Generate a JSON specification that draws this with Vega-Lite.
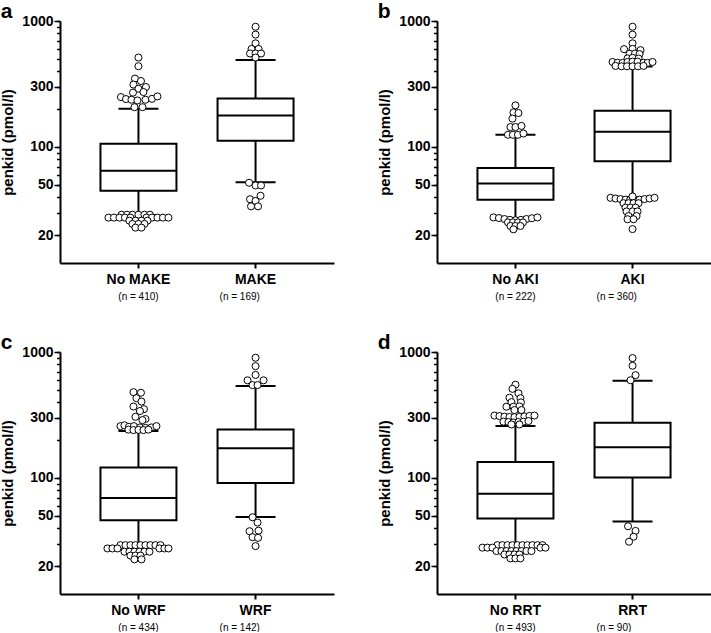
{
"$schema": "https://vega.github.io/schema/vega-lite/v6.json",
"background": "white",
"padding": {"left": 0, "top": 1, "right": 0, "bottom": 0},
"columns": 2,
"spacing": {"row": 31, "column": 43},
"datasets": {
"boxes": [
{"p":"a","g":"No MAKE","lo":28.9,"q1":44.9,"med":64.8,"q3":106,"hi":201},
{"p":"a","g":"MAKE","lo":52.5,"q1":112,"med":178,"q3":243,"hi":491},
{"p":"b","g":"No AKI","lo":27.2,"q1":38.1,"med":51.4,"q3":68,"hi":125},
{"p":"b","g":"AKI","lo":40,"q1":77,"med":132,"q3":194,"hi":435},
{"p":"c","g":"No WRF","lo":29.3,"q1":46.1,"med":69.4,"q3":121,"hi":236},
{"p":"c","g":"WRF","lo":49.1,"q1":91.2,"med":172,"q3":243,"hi":538},
{"p":"d","g":"No RRT","lo":29.3,"q1":47.6,"med":75,"q3":134,"hi":259},
{"p":"d","g":"RRT","lo":45.1,"q1":101,"med":175,"q3":275,"hi":590}
],
"outliers": [
{"p":"a","g":"No MAKE","v":513,"j":0},{"p":"a","g":"No MAKE","v":438,"j":0},{"p":"a","g":"No MAKE","v":349,"j":-0.7},{"p":"a","g":"No MAKE","v":334,"j":0.5},{"p":"a","g":"No MAKE","v":313,"j":-1},{"p":"a","g":"No MAKE","v":299,"j":1.5},{"p":"a","g":"No MAKE","v":290,"j":0},{"p":"a","g":"No MAKE","v":273,"j":1},{"p":"a","g":"No MAKE","v":270,"j":-1.1},{"p":"a","g":"No MAKE","v":249,"j":-3.5},{"p":"a","g":"No MAKE","v":240,"j":-2.5},{"p":"a","g":"No MAKE","v":237,"j":-1.4},{"p":"a","g":"No MAKE","v":234,"j":-0.2},{"p":"a","g":"No MAKE","v":237,"j":1.4},{"p":"a","g":"No MAKE","v":241,"j":2.7},{"p":"a","g":"No MAKE","v":252,"j":3.8},{"p":"a","g":"No MAKE","v":207,"j":-0.8},{"p":"a","g":"No MAKE","v":207,"j":0.8},
{"p":"a","g":"No MAKE","v":29,"j":-3.4},{"p":"a","g":"No MAKE","v":29,"j":-2.3},{"p":"a","g":"No MAKE","v":29,"j":-1.2},{"p":"a","g":"No MAKE","v":29,"j":0},{"p":"a","g":"No MAKE","v":29,"j":1.2},{"p":"a","g":"No MAKE","v":29,"j":2.3},
{"p":"a","g":"No MAKE","v":27.5,"j":-6},{"p":"a","g":"No MAKE","v":27.5,"j":-4.9},{"p":"a","g":"No MAKE","v":27.5,"j":-3.8},{"p":"a","g":"No MAKE","v":27.5,"j":-2.7},{"p":"a","g":"No MAKE","v":27.5,"j":-1.6},{"p":"a","g":"No MAKE","v":27.5,"j":1.6},{"p":"a","g":"No MAKE","v":27.5,"j":2.7},{"p":"a","g":"No MAKE","v":27.5,"j":3.8},{"p":"a","g":"No MAKE","v":27.5,"j":4.9},{"p":"a","g":"No MAKE","v":27.5,"j":6},
{"p":"a","g":"No MAKE","v":26,"j":-1.8},{"p":"a","g":"No MAKE","v":26,"j":-0.6},{"p":"a","g":"No MAKE","v":26,"j":0.6},{"p":"a","g":"No MAKE","v":26,"j":1.8},
{"p":"a","g":"No MAKE","v":24.5,"j":-1.2},{"p":"a","g":"No MAKE","v":24.5,"j":0},{"p":"a","g":"No MAKE","v":24.5,"j":1.2},{"p":"a","g":"No MAKE","v":22.9,"j":-0.6},{"p":"a","g":"No MAKE","v":22.9,"j":0.6},
{"p":"a","g":"MAKE","v":900,"j":0},{"p":"a","g":"MAKE","v":780,"j":0},{"p":"a","g":"MAKE","v":665,"j":0},{"p":"a","g":"MAKE","v":600,"j":-0.8},{"p":"a","g":"MAKE","v":600,"j":0.6},{"p":"a","g":"MAKE","v":552,"j":-1.1},{"p":"a","g":"MAKE","v":552,"j":0},{"p":"a","g":"MAKE","v":552,"j":1.1},{"p":"a","g":"MAKE","v":513,"j":0},
{"p":"a","g":"MAKE","v":52,"j":-1.3},{"p":"a","g":"MAKE","v":49.5,"j":0},{"p":"a","g":"MAKE","v":49.5,"j":1.1},{"p":"a","g":"MAKE","v":38.5,"j":-1.1},{"p":"a","g":"MAKE","v":37.3,"j":0},{"p":"a","g":"MAKE","v":41,"j":1},{"p":"a","g":"MAKE","v":33.8,"j":-0.9},{"p":"a","g":"MAKE","v":33.8,"j":0.5},

{"p":"b","g":"No AKI","v":214,"j":0},{"p":"b","g":"No AKI","v":188,"j":-0.4},{"p":"b","g":"No AKI","v":186,"j":0.6},{"p":"b","g":"No AKI","v":168,"j":-0.6},{"p":"b","g":"No AKI","v":144,"j":-1},{"p":"b","g":"No AKI","v":144,"j":0},{"p":"b","g":"No AKI","v":147,"j":1.2},{"p":"b","g":"No AKI","v":125,"j":-1.5},{"p":"b","g":"No AKI","v":125,"j":-0.5},{"p":"b","g":"No AKI","v":125,"j":0.5},{"p":"b","g":"No AKI","v":128,"j":1.6},
{"p":"b","g":"No AKI","v":27.6,"j":-4.4},{"p":"b","g":"No AKI","v":27.3,"j":-3.3},{"p":"b","g":"No AKI","v":26.8,"j":-2.2},{"p":"b","g":"No AKI","v":26.4,"j":-1.1},{"p":"b","g":"No AKI","v":26.2,"j":0},{"p":"b","g":"No AKI","v":26.4,"j":1.1},{"p":"b","g":"No AKI","v":26.8,"j":2.2},{"p":"b","g":"No AKI","v":27.2,"j":3.3},{"p":"b","g":"No AKI","v":27.6,"j":4.4},
{"p":"b","g":"No AKI","v":25.2,"j":-1.5},{"p":"b","g":"No AKI","v":25.2,"j":-0.5},{"p":"b","g":"No AKI","v":25.2,"j":0.5},{"p":"b","g":"No AKI","v":25.2,"j":1.5},{"p":"b","g":"No AKI","v":23.6,"j":-1},{"p":"b","g":"No AKI","v":23.6,"j":0},{"p":"b","g":"No AKI","v":23.6,"j":1},{"p":"b","g":"No AKI","v":22.2,"j":-0.4},
{"p":"b","g":"AKI","v":900,"j":0},{"p":"b","g":"AKI","v":780,"j":0},{"p":"b","g":"AKI","v":665,"j":0},{"p":"b","g":"AKI","v":598,"j":-1.7},{"p":"b","g":"AKI","v":600,"j":0},{"p":"b","g":"AKI","v":587,"j":1.6},{"p":"b","g":"AKI","v":550,"j":-0.6},{"p":"b","g":"AKI","v":552,"j":0.5},{"p":"b","g":"AKI","v":546,"j":1.4},{"p":"b","g":"AKI","v":505,"j":-1},{"p":"b","g":"AKI","v":510,"j":0},{"p":"b","g":"AKI","v":504,"j":1.2},
{"p":"b","g":"AKI","v":473,"j":-4},{"p":"b","g":"AKI","v":466,"j":-3},{"p":"b","g":"AKI","v":465,"j":-2},{"p":"b","g":"AKI","v":473,"j":-1},{"p":"b","g":"AKI","v":476,"j":0},{"p":"b","g":"AKI","v":476,"j":1},{"p":"b","g":"AKI","v":466,"j":2.2},{"p":"b","g":"AKI","v":465,"j":3},{"p":"b","g":"AKI","v":473,"j":4},
{"p":"b","g":"AKI","v":440,"j":-3.4},{"p":"b","g":"AKI","v":437,"j":-2.2},{"p":"b","g":"AKI","v":437,"j":-1.1},{"p":"b","g":"AKI","v":437,"j":0},{"p":"b","g":"AKI","v":437,"j":1.1},{"p":"b","g":"AKI","v":440,"j":2.2},
{"p":"b","g":"AKI","v":39.5,"j":-4.4},{"p":"b","g":"AKI","v":39,"j":-3.4},{"p":"b","g":"AKI","v":38.6,"j":-2.4},{"p":"b","g":"AKI","v":38.2,"j":-1.4},{"p":"b","g":"AKI","v":38,"j":-0.5},{"p":"b","g":"AKI","v":38,"j":0.5},{"p":"b","g":"AKI","v":38.2,"j":1.4},{"p":"b","g":"AKI","v":38.6,"j":2.4},{"p":"b","g":"AKI","v":39,"j":3.4},{"p":"b","g":"AKI","v":39.5,"j":4.4},{"p":"b","g":"AKI","v":40.5,"j":0},
{"p":"b","g":"AKI","v":35.8,"j":-1.8},{"p":"b","g":"AKI","v":35.8,"j":-0.8},{"p":"b","g":"AKI","v":35.8,"j":0.2},{"p":"b","g":"AKI","v":35.8,"j":1.2},{"p":"b","g":"AKI","v":33,"j":-1.4},{"p":"b","g":"AKI","v":33,"j":-0.4},{"p":"b","g":"AKI","v":33,"j":0.6},{"p":"b","g":"AKI","v":30.8,"j":-1.2},{"p":"b","g":"AKI","v":30.8,"j":0},{"p":"b","g":"AKI","v":30.8,"j":1},{"p":"b","g":"AKI","v":28.3,"j":-0.8},{"p":"b","g":"AKI","v":28.3,"j":0.8},{"p":"b","g":"AKI","v":26.7,"j":-1},{"p":"b","g":"AKI","v":26.7,"j":0.2},{"p":"b","g":"AKI","v":22.3,"j":0},

{"p":"c","g":"No WRF","v":480,"j":-1},{"p":"c","g":"No WRF","v":475,"j":0.5},{"p":"c","g":"No WRF","v":430,"j":-0.4},{"p":"c","g":"No WRF","v":404,"j":0.6},{"p":"c","g":"No WRF","v":369,"j":-1},{"p":"c","g":"No WRF","v":352,"j":1.1},{"p":"c","g":"No WRF","v":340,"j":0.3},{"p":"c","g":"No WRF","v":306,"j":-0.6},{"p":"c","g":"No WRF","v":294,"j":1.4},{"p":"c","g":"No WRF","v":288,"j":0.8},
{"p":"c","g":"No WRF","v":258,"j":-3.6},{"p":"c","g":"No WRF","v":262,"j":-2.8},{"p":"c","g":"No WRF","v":255,"j":-1.9},{"p":"c","g":"No WRF","v":258,"j":-0.9},{"p":"c","g":"No WRF","v":252,"j":0.3},{"p":"c","g":"No WRF","v":250,"j":1.4},{"p":"c","g":"No WRF","v":252,"j":2.6},{"p":"c","g":"No WRF","v":258,"j":3.6},
{"p":"c","g":"No WRF","v":242,"j":-2},{"p":"c","g":"No WRF","v":240,"j":-1},{"p":"c","g":"No WRF","v":241,"j":0},{"p":"c","g":"No WRF","v":240,"j":1},{"p":"c","g":"No WRF","v":242,"j":2},
{"p":"c","g":"No WRF","v":29.3,"j":-3.6},{"p":"c","g":"No WRF","v":29.3,"j":-2.6},{"p":"c","g":"No WRF","v":29.3,"j":-1.6},{"p":"c","g":"No WRF","v":29.3,"j":-0.6},{"p":"c","g":"No WRF","v":29.3,"j":0.4},{"p":"c","g":"No WRF","v":29.3,"j":1.4},{"p":"c","g":"No WRF","v":29.3,"j":2.4},{"p":"c","g":"No WRF","v":29.3,"j":3.4},{"p":"c","g":"No WRF","v":29.3,"j":4.4},
{"p":"c","g":"No WRF","v":27.6,"j":-6.2},{"p":"c","g":"No WRF","v":27.6,"j":-5.2},{"p":"c","g":"No WRF","v":27.6,"j":-4.2},{"p":"c","g":"No WRF","v":27.6,"j":4.2},{"p":"c","g":"No WRF","v":27.6,"j":5.2},{"p":"c","g":"No WRF","v":27.6,"j":6},
{"p":"c","g":"No WRF","v":26,"j":-2.8},{"p":"c","g":"No WRF","v":26,"j":-1.8},{"p":"c","g":"No WRF","v":26,"j":-0.8},{"p":"c","g":"No WRF","v":26,"j":0.2},{"p":"c","g":"No WRF","v":26,"j":1.2},{"p":"c","g":"No WRF","v":26,"j":2.2},
{"p":"c","g":"No WRF","v":24.2,"j":-1.6},{"p":"c","g":"No WRF","v":24.2,"j":-0.6},{"p":"c","g":"No WRF","v":24.2,"j":0.4},{"p":"c","g":"No WRF","v":22.6,"j":-0.8},{"p":"c","g":"No WRF","v":22.6,"j":0.6},
{"p":"c","g":"WRF","v":900,"j":0},{"p":"c","g":"WRF","v":772,"j":0},{"p":"c","g":"WRF","v":658,"j":0},{"p":"c","g":"WRF","v":596,"j":-1.6},{"p":"c","g":"WRF","v":596,"j":1.6},{"p":"c","g":"WRF","v":546,"j":-0.6},{"p":"c","g":"WRF","v":546,"j":0.4},
{"p":"c","g":"WRF","v":48.8,"j":-0.6},{"p":"c","g":"WRF","v":44.3,"j":0.4},{"p":"c","g":"WRF","v":37.8,"j":-1.2},{"p":"c","g":"WRF","v":38.2,"j":0.6},{"p":"c","g":"WRF","v":33.9,"j":-0.6},{"p":"c","g":"WRF","v":33.5,"j":0.5},{"p":"c","g":"WRF","v":28.8,"j":0},

{"p":"d","g":"No RRT","v":550,"j":0},{"p":"d","g":"No RRT","v":510,"j":-0.6},{"p":"d","g":"No RRT","v":470,"j":0.6},{"p":"d","g":"No RRT","v":434,"j":-1.2},{"p":"d","g":"No RRT","v":430,"j":1},{"p":"d","g":"No RRT","v":400,"j":-0.8},{"p":"d","g":"No RRT","v":398,"j":1.1},{"p":"d","g":"No RRT","v":368,"j":-1.8},{"p":"d","g":"No RRT","v":368,"j":-0.4},{"p":"d","g":"No RRT","v":370,"j":0.8},{"p":"d","g":"No RRT","v":346,"j":-0.2},{"p":"d","g":"No RRT","v":346,"j":1.2},
{"p":"d","g":"No RRT","v":313,"j":-4.2},{"p":"d","g":"No RRT","v":310,"j":-3.2},{"p":"d","g":"No RRT","v":307,"j":-2.2},{"p":"d","g":"No RRT","v":305,"j":-1.2},{"p":"d","g":"No RRT","v":304,"j":-0.2},{"p":"d","g":"No RRT","v":306,"j":0.8},{"p":"d","g":"No RRT","v":308,"j":1.8},{"p":"d","g":"No RRT","v":311,"j":2.8},{"p":"d","g":"No RRT","v":313,"j":3.8},
{"p":"d","g":"No RRT","v":280,"j":-2.4},{"p":"d","g":"No RRT","v":278,"j":-1.4},{"p":"d","g":"No RRT","v":276,"j":-0.4},{"p":"d","g":"No RRT","v":278,"j":0.6},{"p":"d","g":"No RRT","v":280,"j":1.6},{"p":"d","g":"No RRT","v":283,"j":2.6},{"p":"d","g":"No RRT","v":266,"j":-0.8},{"p":"d","g":"No RRT","v":266,"j":0.8},
{"p":"d","g":"No RRT","v":29.3,"j":-3.6},{"p":"d","g":"No RRT","v":29.3,"j":-2.6},{"p":"d","g":"No RRT","v":29.3,"j":-1.6},{"p":"d","g":"No RRT","v":29.3,"j":-0.6},{"p":"d","g":"No RRT","v":29.3,"j":0.4},{"p":"d","g":"No RRT","v":29.3,"j":1.4},{"p":"d","g":"No RRT","v":29.3,"j":2.4},{"p":"d","g":"No RRT","v":29.3,"j":3.4},{"p":"d","g":"No RRT","v":29.3,"j":4.4},{"p":"d","g":"No RRT","v":29.3,"j":5.4},
{"p":"d","g":"No RRT","v":28,"j":-6.6},{"p":"d","g":"No RRT","v":28,"j":-5.6},{"p":"d","g":"No RRT","v":28,"j":-4.6},{"p":"d","g":"No RRT","v":28,"j":5},{"p":"d","g":"No RRT","v":28,"j":6},
{"p":"d","g":"No RRT","v":26.3,"j":-3.8},{"p":"d","g":"No RRT","v":26.3,"j":-2.8},{"p":"d","g":"No RRT","v":26.3,"j":-1.8},{"p":"d","g":"No RRT","v":26.3,"j":-0.8},{"p":"d","g":"No RRT","v":26.3,"j":0.2},{"p":"d","g":"No RRT","v":26.3,"j":1.2},{"p":"d","g":"No RRT","v":26.3,"j":2.2},{"p":"d","g":"No RRT","v":26.3,"j":3.2},
{"p":"d","g":"No RRT","v":24.7,"j":-2.2},{"p":"d","g":"No RRT","v":24.7,"j":-1.2},{"p":"d","g":"No RRT","v":24.7,"j":-0.2},{"p":"d","g":"No RRT","v":24.7,"j":0.8},{"p":"d","g":"No RRT","v":23,"j":-1},{"p":"d","g":"No RRT","v":23,"j":0},{"p":"d","g":"No RRT","v":23,"j":1},
{"p":"d","g":"RRT","v":895,"j":0},{"p":"d","g":"RRT","v":778,"j":0},{"p":"d","g":"RRT","v":655,"j":0.6},{"p":"d","g":"RRT","v":597,"j":-0.4},
{"p":"d","g":"RRT","v":41.4,"j":-0.9},{"p":"d","g":"RRT","v":38,"j":0.6},{"p":"d","g":"RRT","v":34.2,"j":0.2},{"p":"d","g":"RRT","v":31.2,"j":-0.7}
]
},
"concat": [
{
"title": {"text": "a"},
"width": 274, "height": 242,
"layer": [
{"data": {"name": "boxes"}, "transform": [{"filter": "datum.p == 'a'"}],
 "mark": {"type": "rule", "strokeWidth": 2, "color": "black"},
 "encoding": {
  "x": {"field": "g", "type": "nominal", "scale": {"type": "band", "domain": ["No MAKE", "MAKE"], "paddingInner": 0, "paddingOuter": 0.17}, "axis": null},
  "y": {"field": "lo", "type": "quantitative", "scale": {"type": "log", "domain": [12, 1000], "nice": false}, "axis": {"orient": "left", "values": [20,30,40,50,60,70,80,90,100,200,300,400,500,600,700,800,900,1000], "labels": false, "tickSize": 3.5, "title": null}},
  "y2": {"field": "hi"}}},
{"data": {"name": "boxes"}, "transform": [{"filter": "datum.p == 'a'"}],
 "mark": {"type": "bar", "width": 76, "fill": "white", "stroke": "black", "strokeWidth": 2, "opacity": 1},
 "encoding": {
  "x": {"field": "g", "type": "nominal", "scale": {"type": "band", "domain": ["No MAKE", "MAKE"], "paddingInner": 0, "paddingOuter": 0.17}, "axis": {"orient": "bottom", "title": null, "labelAngle": 0, "labelFontSize": 14, "labelFontWeight": "bold", "tickSize": 5, "tickWidth": 2, "labelPadding": 4}},
  "y": {"field": "q1", "type": "quantitative", "scale": {"type": "log", "domain": [12, 1000], "nice": false}, "axis": {"orient": "left", "values": [20,50,100,300,1000], "format": "d", "domain": false, "tickSize": 6, "labelFontSize": 14, "labelFontWeight": "bold", "labelPadding": 1, "title": "penkid (pmol/l)", "titleFontSize": 15, "titleFontWeight": "bold", "titlePadding": 6}},
  "y2": {"field": "q3"}}},
{"data": {"name": "boxes"}, "transform": [{"filter": "datum.p == 'a'"}],
 "mark": {"type": "tick", "size": 77, "thickness": 2, "color": "black", "opacity": 1},
 "encoding": {
  "x": {"field": "g", "type": "nominal", "scale": {"type": "band", "domain": ["No MAKE", "MAKE"], "paddingInner": 0, "paddingOuter": 0.17}, "axis": null},
  "y": {"field": "med", "type": "quantitative", "scale": {"type": "log", "domain": [12, 1000], "nice": false}, "axis": null}}},
{"data": {"name": "boxes"}, "transform": [{"filter": "datum.p == 'a'"}],
 "mark": {"type": "tick", "size": 40, "thickness": 2, "color": "black", "opacity": 1},
 "encoding": {
  "x": {"field": "g", "type": "nominal", "scale": {"type": "band", "domain": ["No MAKE", "MAKE"], "paddingInner": 0, "paddingOuter": 0.17}, "axis": null},
  "y": {"field": "hi", "type": "quantitative", "scale": {"type": "log", "domain": [12, 1000], "nice": false}, "axis": null}}},
{"data": {"name": "boxes"}, "transform": [{"filter": "datum.p == 'a'"}],
 "mark": {"type": "tick", "size": 40, "thickness": 2, "color": "black", "opacity": 1},
 "encoding": {
  "x": {"field": "g", "type": "nominal", "scale": {"type": "band", "domain": ["No MAKE", "MAKE"], "paddingInner": 0, "paddingOuter": 0.17}, "axis": {"orient": "bottom", "title": null, "labelAngle": 0, "domain": false, "ticks": false, "tickSize": 0, "labelFontSize": 10, "labelFontWeight": "normal", "labelPadding": 28, "labelExpr": "datum.value == 'No MAKE' ? '(n = 410)' : '(n = 169)'", "labelAlign": {"condition": {"test": "datum.value == 'MAKE'", "value": "left"}, "value": "center"}, "labelOffset": {"condition": {"test": "datum.value == 'MAKE'", "value": -36}, "value": 0}}},
  "y": {"field": "lo", "type": "quantitative", "scale": {"type": "log", "domain": [12, 1000], "nice": false}, "axis": null}}},
{"data": {"name": "outliers"}, "transform": [{"filter": "datum.p == 'a'"}],
 "mark": {"type": "point", "shape": "circle", "size": 50, "filled": true, "fill": "white", "stroke": "black", "strokeWidth": 1, "opacity": 1},
 "encoding": {
  "x": {"field": "g", "type": "nominal", "scale": {"type": "band", "domain": ["No MAKE", "MAKE"], "paddingInner": 0, "paddingOuter": 0.17}, "axis": null},
  "xOffset": {"field": "j", "type": "quantitative", "scale": {"domain": [-11.71, 11.71], "nice": false, "zero": false}},
  "y": {"field": "v", "type": "quantitative", "scale": {"type": "log", "domain": [12, 1000], "nice": false}, "axis": null}}}
],
"resolve": {"axis": {"x": "independent", "y": "independent"}}
},
{
"title": {"text": "b"},
"width": 274, "height": 242,
"layer": [
{"data": {"name": "boxes"}, "transform": [{"filter": "datum.p == 'b'"}],
 "mark": {"type": "rule", "strokeWidth": 2, "color": "black"},
 "encoding": {
  "x": {"field": "g", "type": "nominal", "scale": {"type": "band", "domain": ["No AKI", "AKI"], "paddingInner": 0, "paddingOuter": 0.17}, "axis": null},
  "y": {"field": "lo", "type": "quantitative", "scale": {"type": "log", "domain": [12, 1000], "nice": false}, "axis": {"orient": "left", "values": [20,30,40,50,60,70,80,90,100,200,300,400,500,600,700,800,900,1000], "labels": false, "tickSize": 3.5, "title": null}},
  "y2": {"field": "hi"}}},
{"data": {"name": "boxes"}, "transform": [{"filter": "datum.p == 'b'"}],
 "mark": {"type": "bar", "width": 76, "fill": "white", "stroke": "black", "strokeWidth": 2, "opacity": 1},
 "encoding": {
  "x": {"field": "g", "type": "nominal", "scale": {"type": "band", "domain": ["No AKI", "AKI"], "paddingInner": 0, "paddingOuter": 0.17}, "axis": {"orient": "bottom", "title": null, "labelAngle": 0, "labelFontSize": 14, "labelFontWeight": "bold", "tickSize": 5, "tickWidth": 2, "labelPadding": 4}},
  "y": {"field": "q1", "type": "quantitative", "scale": {"type": "log", "domain": [12, 1000], "nice": false}, "axis": {"orient": "left", "values": [20,50,100,300,1000], "format": "d", "domain": false, "tickSize": 6, "labelFontSize": 14, "labelFontWeight": "bold", "labelPadding": 1, "title": "penkid (pmol/l)", "titleFontSize": 15, "titleFontWeight": "bold", "titlePadding": 6}},
  "y2": {"field": "q3"}}},
{"data": {"name": "boxes"}, "transform": [{"filter": "datum.p == 'b'"}],
 "mark": {"type": "tick", "size": 77, "thickness": 2, "color": "black", "opacity": 1},
 "encoding": {
  "x": {"field": "g", "type": "nominal", "scale": {"type": "band", "domain": ["No AKI", "AKI"], "paddingInner": 0, "paddingOuter": 0.17}, "axis": null},
  "y": {"field": "med", "type": "quantitative", "scale": {"type": "log", "domain": [12, 1000], "nice": false}, "axis": null}}},
{"data": {"name": "boxes"}, "transform": [{"filter": "datum.p == 'b'"}],
 "mark": {"type": "tick", "size": 40, "thickness": 2, "color": "black", "opacity": 1},
 "encoding": {
  "x": {"field": "g", "type": "nominal", "scale": {"type": "band", "domain": ["No AKI", "AKI"], "paddingInner": 0, "paddingOuter": 0.17}, "axis": null},
  "y": {"field": "hi", "type": "quantitative", "scale": {"type": "log", "domain": [12, 1000], "nice": false}, "axis": null}}},
{"data": {"name": "boxes"}, "transform": [{"filter": "datum.p == 'b'"}],
 "mark": {"type": "tick", "size": 40, "thickness": 2, "color": "black", "opacity": 1},
 "encoding": {
  "x": {"field": "g", "type": "nominal", "scale": {"type": "band", "domain": ["No AKI", "AKI"], "paddingInner": 0, "paddingOuter": 0.17}, "axis": {"orient": "bottom", "title": null, "labelAngle": 0, "domain": false, "ticks": false, "tickSize": 0, "labelFontSize": 10, "labelFontWeight": "normal", "labelPadding": 28, "labelExpr": "datum.value == 'No AKI' ? '(n = 222)' : '(n = 360)'", "labelAlign": {"condition": {"test": "datum.value == 'AKI'", "value": "left"}, "value": "center"}, "labelOffset": {"condition": {"test": "datum.value == 'AKI'", "value": -36}, "value": 0}}},
  "y": {"field": "lo", "type": "quantitative", "scale": {"type": "log", "domain": [12, 1000], "nice": false}, "axis": null}}},
{"data": {"name": "outliers"}, "transform": [{"filter": "datum.p == 'b'"}],
 "mark": {"type": "point", "shape": "circle", "size": 50, "filled": true, "fill": "white", "stroke": "black", "strokeWidth": 1, "opacity": 1},
 "encoding": {
  "x": {"field": "g", "type": "nominal", "scale": {"type": "band", "domain": ["No AKI", "AKI"], "paddingInner": 0, "paddingOuter": 0.17}, "axis": null},
  "xOffset": {"field": "j", "type": "quantitative", "scale": {"domain": [-11.71, 11.71], "nice": false, "zero": false}},
  "y": {"field": "v", "type": "quantitative", "scale": {"type": "log", "domain": [12, 1000], "nice": false}, "axis": null}}}
],
"resolve": {"axis": {"x": "independent", "y": "independent"}}
},
{
"title": {"text": "c"},
"width": 274, "height": 242,
"layer": [
{"data": {"name": "boxes"}, "transform": [{"filter": "datum.p == 'c'"}],
 "mark": {"type": "rule", "strokeWidth": 2, "color": "black"},
 "encoding": {
  "x": {"field": "g", "type": "nominal", "scale": {"type": "band", "domain": ["No WRF", "WRF"], "paddingInner": 0, "paddingOuter": 0.17}, "axis": null},
  "y": {"field": "lo", "type": "quantitative", "scale": {"type": "log", "domain": [12, 1000], "nice": false}, "axis": {"orient": "left", "values": [20,30,40,50,60,70,80,90,100,200,300,400,500,600,700,800,900,1000], "labels": false, "tickSize": 3.5, "title": null}},
  "y2": {"field": "hi"}}},
{"data": {"name": "boxes"}, "transform": [{"filter": "datum.p == 'c'"}],
 "mark": {"type": "bar", "width": 76, "fill": "white", "stroke": "black", "strokeWidth": 2, "opacity": 1},
 "encoding": {
  "x": {"field": "g", "type": "nominal", "scale": {"type": "band", "domain": ["No WRF", "WRF"], "paddingInner": 0, "paddingOuter": 0.17}, "axis": {"orient": "bottom", "title": null, "labelAngle": 0, "labelFontSize": 14, "labelFontWeight": "bold", "tickSize": 5, "tickWidth": 2, "labelPadding": 4}},
  "y": {"field": "q1", "type": "quantitative", "scale": {"type": "log", "domain": [12, 1000], "nice": false}, "axis": {"orient": "left", "values": [20,50,100,300,1000], "format": "d", "domain": false, "tickSize": 6, "labelFontSize": 14, "labelFontWeight": "bold", "labelPadding": 1, "title": "penkid (pmol/l)", "titleFontSize": 15, "titleFontWeight": "bold", "titlePadding": 6}},
  "y2": {"field": "q3"}}},
{"data": {"name": "boxes"}, "transform": [{"filter": "datum.p == 'c'"}],
 "mark": {"type": "tick", "size": 77, "thickness": 2, "color": "black", "opacity": 1},
 "encoding": {
  "x": {"field": "g", "type": "nominal", "scale": {"type": "band", "domain": ["No WRF", "WRF"], "paddingInner": 0, "paddingOuter": 0.17}, "axis": null},
  "y": {"field": "med", "type": "quantitative", "scale": {"type": "log", "domain": [12, 1000], "nice": false}, "axis": null}}},
{"data": {"name": "boxes"}, "transform": [{"filter": "datum.p == 'c'"}],
 "mark": {"type": "tick", "size": 40, "thickness": 2, "color": "black", "opacity": 1},
 "encoding": {
  "x": {"field": "g", "type": "nominal", "scale": {"type": "band", "domain": ["No WRF", "WRF"], "paddingInner": 0, "paddingOuter": 0.17}, "axis": null},
  "y": {"field": "hi", "type": "quantitative", "scale": {"type": "log", "domain": [12, 1000], "nice": false}, "axis": null}}},
{"data": {"name": "boxes"}, "transform": [{"filter": "datum.p == 'c'"}],
 "mark": {"type": "tick", "size": 40, "thickness": 2, "color": "black", "opacity": 1},
 "encoding": {
  "x": {"field": "g", "type": "nominal", "scale": {"type": "band", "domain": ["No WRF", "WRF"], "paddingInner": 0, "paddingOuter": 0.17}, "axis": {"orient": "bottom", "title": null, "labelAngle": 0, "domain": false, "ticks": false, "tickSize": 0, "labelFontSize": 10, "labelFontWeight": "normal", "labelPadding": 28, "labelExpr": "datum.value == 'No WRF' ? '(n = 434)' : '(n = 142)'", "labelAlign": {"condition": {"test": "datum.value == 'WRF'", "value": "left"}, "value": "center"}, "labelOffset": {"condition": {"test": "datum.value == 'WRF'", "value": -36}, "value": 0}}},
  "y": {"field": "lo", "type": "quantitative", "scale": {"type": "log", "domain": [12, 1000], "nice": false}, "axis": null}}},
{"data": {"name": "outliers"}, "transform": [{"filter": "datum.p == 'c'"}],
 "mark": {"type": "point", "shape": "circle", "size": 50, "filled": true, "fill": "white", "stroke": "black", "strokeWidth": 1, "opacity": 1},
 "encoding": {
  "x": {"field": "g", "type": "nominal", "scale": {"type": "band", "domain": ["No WRF", "WRF"], "paddingInner": 0, "paddingOuter": 0.17}, "axis": null},
  "xOffset": {"field": "j", "type": "quantitative", "scale": {"domain": [-11.71, 11.71], "nice": false, "zero": false}},
  "y": {"field": "v", "type": "quantitative", "scale": {"type": "log", "domain": [12, 1000], "nice": false}, "axis": null}}}
],
"resolve": {"axis": {"x": "independent", "y": "independent"}}
},
{
"title": {"text": "d"},
"width": 274, "height": 242,
"layer": [
{"data": {"name": "boxes"}, "transform": [{"filter": "datum.p == 'd'"}],
 "mark": {"type": "rule", "strokeWidth": 2, "color": "black"},
 "encoding": {
  "x": {"field": "g", "type": "nominal", "scale": {"type": "band", "domain": ["No RRT", "RRT"], "paddingInner": 0, "paddingOuter": 0.17}, "axis": null},
  "y": {"field": "lo", "type": "quantitative", "scale": {"type": "log", "domain": [12, 1000], "nice": false}, "axis": {"orient": "left", "values": [20,30,40,50,60,70,80,90,100,200,300,400,500,600,700,800,900,1000], "labels": false, "tickSize": 3.5, "title": null}},
  "y2": {"field": "hi"}}},
{"data": {"name": "boxes"}, "transform": [{"filter": "datum.p == 'd'"}],
 "mark": {"type": "bar", "width": 76, "fill": "white", "stroke": "black", "strokeWidth": 2, "opacity": 1},
 "encoding": {
  "x": {"field": "g", "type": "nominal", "scale": {"type": "band", "domain": ["No RRT", "RRT"], "paddingInner": 0, "paddingOuter": 0.17}, "axis": {"orient": "bottom", "title": null, "labelAngle": 0, "labelFontSize": 14, "labelFontWeight": "bold", "tickSize": 5, "tickWidth": 2, "labelPadding": 4}},
  "y": {"field": "q1", "type": "quantitative", "scale": {"type": "log", "domain": [12, 1000], "nice": false}, "axis": {"orient": "left", "values": [20,50,100,300,1000], "format": "d", "domain": false, "tickSize": 6, "labelFontSize": 14, "labelFontWeight": "bold", "labelPadding": 1, "title": "penkid (pmol/l)", "titleFontSize": 15, "titleFontWeight": "bold", "titlePadding": 6}},
  "y2": {"field": "q3"}}},
{"data": {"name": "boxes"}, "transform": [{"filter": "datum.p == 'd'"}],
 "mark": {"type": "tick", "size": 77, "thickness": 2, "color": "black", "opacity": 1},
 "encoding": {
  "x": {"field": "g", "type": "nominal", "scale": {"type": "band", "domain": ["No RRT", "RRT"], "paddingInner": 0, "paddingOuter": 0.17}, "axis": null},
  "y": {"field": "med", "type": "quantitative", "scale": {"type": "log", "domain": [12, 1000], "nice": false}, "axis": null}}},
{"data": {"name": "boxes"}, "transform": [{"filter": "datum.p == 'd'"}],
 "mark": {"type": "tick", "size": 40, "thickness": 2, "color": "black", "opacity": 1},
 "encoding": {
  "x": {"field": "g", "type": "nominal", "scale": {"type": "band", "domain": ["No RRT", "RRT"], "paddingInner": 0, "paddingOuter": 0.17}, "axis": null},
  "y": {"field": "hi", "type": "quantitative", "scale": {"type": "log", "domain": [12, 1000], "nice": false}, "axis": null}}},
{"data": {"name": "boxes"}, "transform": [{"filter": "datum.p == 'd'"}],
 "mark": {"type": "tick", "size": 40, "thickness": 2, "color": "black", "opacity": 1},
 "encoding": {
  "x": {"field": "g", "type": "nominal", "scale": {"type": "band", "domain": ["No RRT", "RRT"], "paddingInner": 0, "paddingOuter": 0.17}, "axis": {"orient": "bottom", "title": null, "labelAngle": 0, "domain": false, "ticks": false, "tickSize": 0, "labelFontSize": 10, "labelFontWeight": "normal", "labelPadding": 28, "labelExpr": "datum.value == 'No RRT' ? '(n = 493)' : '(n = 90)'", "labelAlign": {"condition": {"test": "datum.value == 'RRT'", "value": "left"}, "value": "center"}, "labelOffset": {"condition": {"test": "datum.value == 'RRT'", "value": -36}, "value": 0}}},
  "y": {"field": "lo", "type": "quantitative", "scale": {"type": "log", "domain": [12, 1000], "nice": false}, "axis": null}}},
{"data": {"name": "outliers"}, "transform": [{"filter": "datum.p == 'd'"}],
 "mark": {"type": "point", "shape": "circle", "size": 50, "filled": true, "fill": "white", "stroke": "black", "strokeWidth": 1, "opacity": 1},
 "encoding": {
  "x": {"field": "g", "type": "nominal", "scale": {"type": "band", "domain": ["No RRT", "RRT"], "paddingInner": 0, "paddingOuter": 0.17}, "axis": null},
  "xOffset": {"field": "j", "type": "quantitative", "scale": {"domain": [-11.71, 11.71], "nice": false, "zero": false}},
  "y": {"field": "v", "type": "quantitative", "scale": {"type": "log", "domain": [12, 1000], "nice": false}, "axis": null}}}
],
"resolve": {"axis": {"x": "independent", "y": "independent"}}
}
],
"config": {
 "view": {"stroke": null},
 "font": "Liberation Sans",
 "axis": {"grid": false, "domainColor": "black", "tickColor": "black", "labelColor": "black", "titleColor": "black", "labelFont": "Liberation Sans", "titleFont": "Liberation Sans", "domainWidth": 2, "tickWidth": 1.5},
 "title": {"anchor": "start", "frame": "bounds", "fontSize": 21, "fontWeight": "bold", "font": "Liberation Sans", "color": "black", "offset": -7, "dy": 1}
}
}
